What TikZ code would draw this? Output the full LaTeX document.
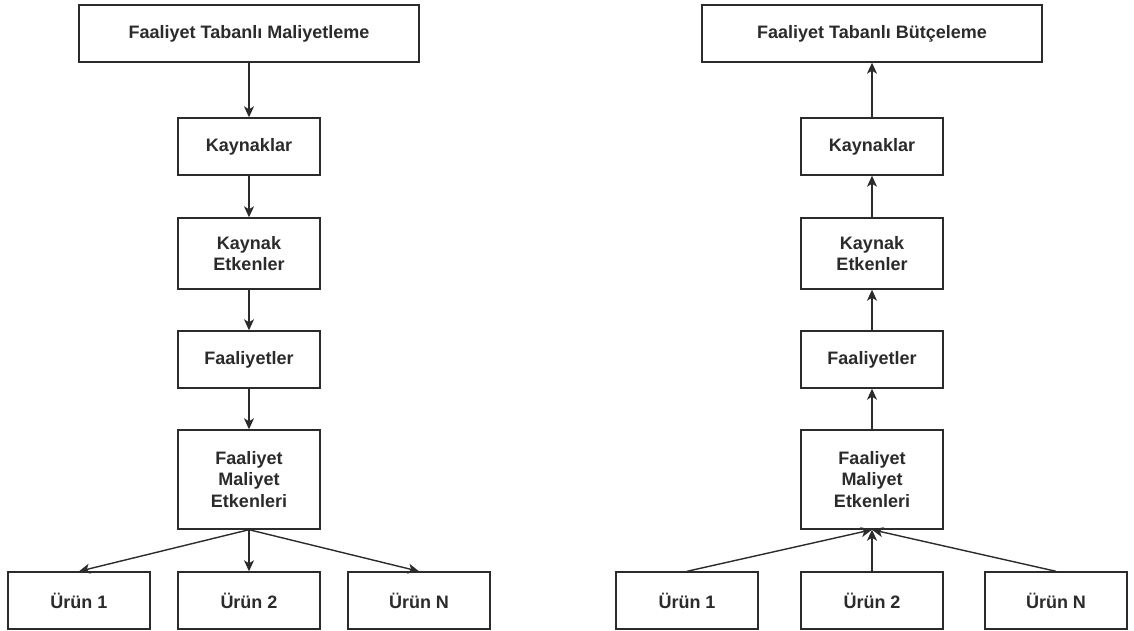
\documentclass[tikz,border=0pt]{standalone}
\usepackage{fontspec}
\setmainfont{Liberation Sans}
\usetikzlibrary{arrows.meta}
\definecolor{ink}{HTML}{2B2B2B}
\tikzset{
  box/.style={draw=ink, line width=1.4pt, fill=white, inner sep=0pt, align=center,
    text=ink, font=\fontsize{18}{21.6}\selectfont\bfseries, minimum width=142pt, minimum height=57pt},
  wide/.style={box, minimum width=340pt},
  conn/.style={draw=ink, line width=1.4pt, -{Stealth[length=11pt,width=10pt,inset=3pt]}}
}
\begin{document}
\begin{tikzpicture}[x=1pt,y=-1pt]
\useasboundingbox (0,0) rectangle (1134,631);
% left column
\node[wide] (lt) at (249,33.5) {Faaliyet Tabanlı Maliyetleme};
\node[box] (lk) at (249,146.5) {Kaynaklar};
\node[box, minimum height=71pt] (lke) at (249,253.5) {Kaynak\\Etkenler};
\node[box] (lf) at (249,359.5) {Faaliyetler};
\node[box, minimum height=99pt] (lfme) at (249,479.5) {Faaliyet\\Maliyet\\Etkenleri};
\node[box] (lu1) at (79,600.5) {Ürün 1};
\node[box] (lu2) at (249,600.5) {Ürün 2};
\node[box] (lun) at (419,600.5) {Ürün N};
\draw[conn] (lt) -- (lk);
\draw[conn] (lk) -- (lke);
\draw[conn] (lke) -- (lf);
\draw[conn] (lf) -- (lfme);
\draw[conn] (lfme.south) -- (lu1.north);
\draw[conn] (lfme.south) -- (lu2.north);
\draw[conn] (lfme.south) -- (lun.north);
% right column
\node[wide] (rt) at (872,33.5) {Faaliyet Tabanlı Bütçeleme};
\node[box] (rk) at (872,146.5) {Kaynaklar};
\node[box, minimum height=71pt] (rke) at (872,253.5) {Kaynak\\Etkenler};
\node[box] (rf) at (872,359.5) {Faaliyetler};
\node[box, minimum height=99pt] (rfme) at (872,479.5) {Faaliyet\\Maliyet\\Etkenleri};
\node[box] (ru1) at (687,600.5) {Ürün 1};
\node[box] (ru2) at (872,600.5) {Ürün 2};
\node[box] (run) at (1056,600.5) {Ürün N};
\draw[conn] (rk) -- (rt);
\draw[conn] (rke) -- (rk);
\draw[conn] (rf) -- (rke);
\draw[conn] (rfme) -- (rf);
\draw[conn] (ru1.north) -- (rfme.south);
\draw[conn] (ru2.north) -- (rfme.south);
\draw[conn] (run.north) -- (rfme.south);
\end{tikzpicture}
\end{document}
